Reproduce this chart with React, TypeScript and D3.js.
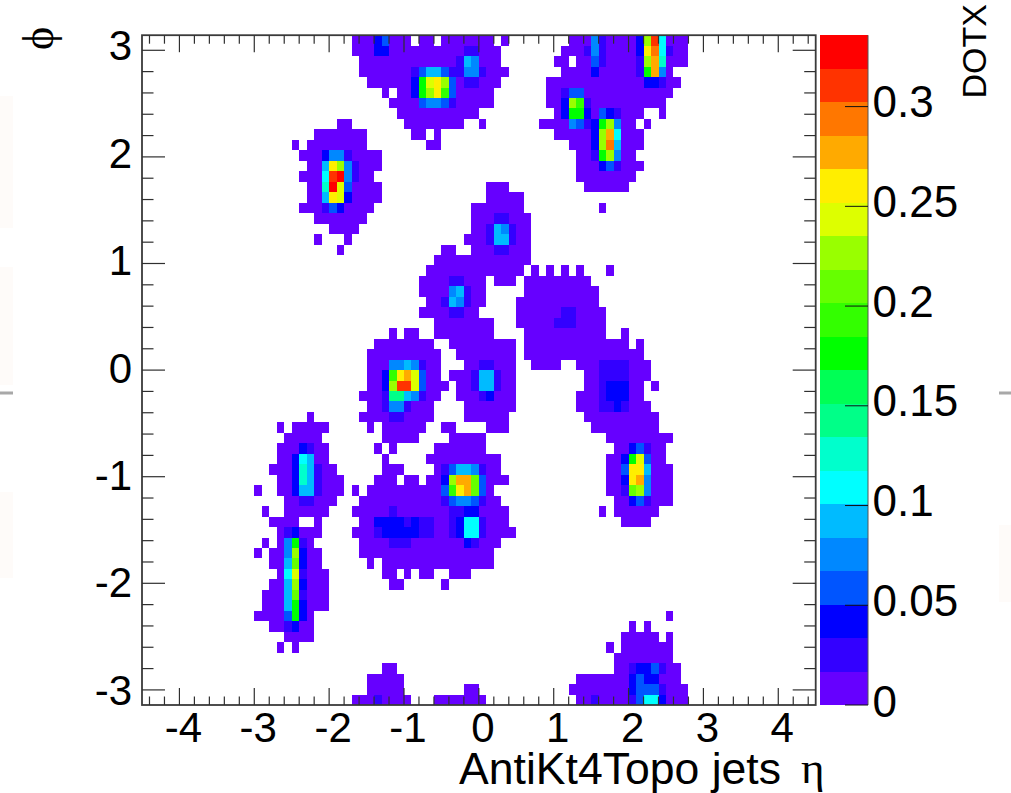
import React from "react";
import * as d3 from "d3";

// Observed bins per row of the 90 x 64 histogram (row 0 = top). Pairs of first/last eta bin.
const occupiedBins: number[][] = [
  [28,35,37,38,40,46,48,48,57,72],
  [28,47,56,72],
  [29,47,55,56,58,72],
  [29,48,56,70],
  [30,47,54,71],
  [32,32,34,46,54,70],
  [33,46,54,69],
  [34,44,55,66,69,69],
  [26,27,35,42,45,45,53,65,67,67],
  [23,29,36,37,39,39,55,66],
  [20,20,22,29,38,39,57,66],
  [21,31,58,65],
  [22,31,58,66],
  [21,30,58,65],
  [22,31,46,48,59,64],
  [22,31,46,50],
  [21,30,44,50,61,61],
  [23,29,44,51],
  [25,28,44,51],
  [23,23,27,27,43,51],
  [26,26,40,41,44,51],
  [39,51],
  [38,50,52,52,54,54,56,56,58,58,62,62],
  [37,45,47,49,51,59],
  [37,45,51,60],
  [38,45,50,60],
  [37,44,50,61],
  [39,46,50,61],
  [33,33,35,36,39,46,51,61,64,64],
  [31,38,41,49,51,64,66,66],
  [30,39,42,49,51,66],
  [30,39,43,49,52,55,58,67],
  [30,39,41,49,59,67],
  [30,40,42,49,59,66,68,68],
  [29,39,42,49,58,66],
  [30,38,43,49,58,67],
  [22,22,29,38,43,48,59,68],
  [18,18,20,24,30,30,32,37,40,41,46,48,60,68],
  [19,23,32,36,41,45,62,70],
  [18,24,31,31,33,33,39,45,63,69],
  [18,24,32,32,38,47,62,69],
  [17,25,32,34,39,47,62,70],
  [18,26,31,33,35,36,38,48,62,70],
  [15,15,18,26,28,28,30,46,62,70],
  [19,25,29,47,63,70],
  [16,16,19,24,28,48,61,61,63,68],
  [17,20,23,23,29,48,64,67],
  [18,23,28,49],
  [16,16,18,22,29,47],
  [15,15,17,23,29,46],
  [17,23,30,30,32,46],
  [18,24,32,33,35,35,37,38,41,43],
  [17,24,33,34,40,40],
  [16,24],
  [16,24],
  [15,22,70,70],
  [17,22,65,65,67,67],
  [19,22,64,68,70,70],
  [18,18,20,20,62,62,64,70],
  [63,70],
  [32,33,63,71],
  [30,34,58,71],
  [30,34,43,44,57,72],
  [28,35,39,45,58,72],
];

// Raised bins: [row, first bin, colour band of that bin, band of next bin, ...]
const peakBands: number[][] = [
  [0,31,2,3],[1,31,2,2],[1,43,1,1],[2,42,1,5,4],[3,36,1,3,5,5,3,1,1,4,4,1],
  [4,36,2,10,14,15,13,3],[4,43,1,1],[5,36,2,10,13,15,11,3],[6,37,3,4,4,3,1],
  [0,60,4,1],[0,66,2,13,18,6],[1,59,1,4,1],[1,66,2,15,17,6,1],[2,60,3,1],[2,66,1,13,16,7],
  [3,60,2],[3,66,1,10,16,4],[4,67,2,2,1],[5,56,1,3,3],[6,56,2,13,11,1],[7,56,2,10,10,2],
  [7,61,3,2,1],[8,57,4,3,1,2,10,13,4],[9,60,2,13,16,6],[10,60,2,13,17,5],[11,60,1,10,13,4],[12,61,2,3,1],
  [11,24,2,4,4,1],[12,24,5,15,13,4,1],[13,24,6,18,19,4,1],[14,24,7,19,14,3],[15,24,5,15,14,2],[16,24,1,3,2],
  [17,47,1,1],[18,46,1,5,4,1],[19,46,1,5,5,1],[20,47,1,1],
  [23,41,1,1],[24,41,4,5,1],[25,40,1,5,4,1],[26,41,1,1],[26,56,1,1],[27,55,1,1,1],
  [31,33,4,4,5,4,1],[31,45,1,1],[31,61,1,1,1,1],
  [32,32,2,11,15,16,14,3],[32,44,1,5,5,1],[32,61,1,1,1,1],
  [33,32,2,13,18,18,14,3],[33,44,1,5,5,1],[33,61,1,2,2,2],
  [34,32,1,8,8,5,4,1],[34,45,1,2],[34,61,1,2,2,2],
  [35,32,1,4,4,1],[35,61,1,1,2,1],[36,33,1,1],
  [39,21,2,1],[40,20,2,6,5],[41,20,2,7,5,1],[42,20,2,7,5,1],[43,20,2,5,5,1],[44,21,1,1],
  [47,19,1,2],[48,19,4,10,1],[49,19,4,13,2],[50,19,5,12,2],[51,19,6,14,1],[52,19,5,13,2],
  [53,19,5,12,1],[54,19,5,10,2],[55,19,3,10,2],[56,19,1,2],
  [41,40,1,3,5,5,4,1],[42,40,2,13,16,16,12,3],[43,40,3,11,15,16,12,3],[44,40,1,3,4,4,3,1],
  [45,33,1],[45,41,1,1,2,2],[46,31,2,2,2,2,1,2,1,1],[46,41,1,2,6,6,1],
  [47,31,1,2,2,2,2,2,1,1],[47,41,1,2,6,6,1],[48,33,1,1,1],[48,43,2,1],
  [39,65,2,3,1],[40,64,2,10,14,3],[41,64,3,15,15,5],[42,64,2,15,16,4],[43,64,1,12,13,4],[44,65,2,3,1],
  [60,65,1,2,2,3,1],[61,65,2,3,2,2],[62,65,2,3,3,3,1],[63,60,1],[63,65,1,3,6,6,2],[63,31,1],
];

const palette = ["#6600ff","#3300ff","#0000ff","#0055ff","#0088ff","#00bbff","#00ffff","#00ffcc","#00ff88","#00ff55",
  "#00ff00","#33ff00","#66ff00","#99ff00","#ddff00","#ffee00","#ffaa00","#ff7700","#ff3300","#ff0000"];
const zMax = 0.3358;
const etaTicks = [-4,-3,-2,-1,0,1,2,3,4];
const phiTicks = [-3,-2,-1,0,1,2,3];
const zTicks = [0,0.05,0.1,0.15,0.2,0.25,0.3];
const zLabels = ["0","0.05","0.1","0.15","0.2","0.25","0.3"];

const W = 1011, H = 793;
const frame = { l: 142, r: 815.7, t: 35.2, b: 705 };
const bar = { l: 820, r: 868 };
const nEta = 90, nPhi = 64;
const FONT = "'Liberation Sans', Arial, sans-serif";

export default function App() {
  const x = d3.scaleLinear().domain([-4.5, 4.5]).range([frame.l, frame.r]);
  const y = d3.scaleLinear().domain([-Math.PI, Math.PI]).range([frame.b, frame.t]);
  const z = d3.scaleLinear().domain([0, zMax]).range([frame.b, frame.t]);
  const color = d3.scaleQuantize<string>().domain([0, zMax]).range(palette);
  const bandStep = zMax / palette.length;

  const grid = new Map<string, number>();
  occupiedBins.forEach((pairs, row) => {
    for (let i = 0; i < pairs.length; i += 2)
      d3.range(pairs[i], pairs[i + 1] + 1).forEach((c) => grid.set(`${row}:${c}`, 0.5 * bandStep));
  });
  peakBands.forEach(([row, first, ...bands]) =>
    bands.forEach((b, k) => grid.set(`${row}:${first + k}`, (b + 0.5) * bandStep)));

  const etaEdge = (c: number) => -4.5 + (c * 9) / nEta;
  const phiEdge = (r: number) => Math.PI - (r * 2 * Math.PI) / nPhi;

  const cells = Array.from(grid, ([key, v]) => {
    const [r, c] = key.split(":").map(Number);
    return { r, c, v };
  });

  const etaMinor = d3.range(-22, 23).map((d) => d / 5).filter((d) => !Number.isInteger(d));
  const phiMinor = d3.range(-15, 16).map((d) => d / 5).filter((d) => !Number.isInteger(d));

  const tickCol = "#2f2f2f";
  return (
    <svg width={W} height={H} viewBox={`0 0 ${W} ${H}`}
      style={{ position: "absolute", left: 0, top: 0, display: "block", background: "#fff" }}>
      {/* faint page remnants at the picture edges */}
      <g fill="#fefbf9">
        <rect x={0} y={96} width={13} height={132} />
        <rect x={0} y={267} width={13} height={118} />
        <rect x={0} y={492} width={13} height={86} />
        <rect x={999} y={525} width={12} height={77} />
      </g>
      <rect x={0} y={391.5} width={13} height={3} fill="#a8a8a8" />
      <rect x={999} y={391.5} width={12} height={3} fill="#a8a8a8" />

      <g shapeRendering="crispEdges">
        {cells.map((d) => (
          <rect key={`${d.r}-${d.c}`} x={x(etaEdge(d.c))} y={y(phiEdge(d.r))}
            width={x(etaEdge(d.c + 1)) - x(etaEdge(d.c))}
            height={y(phiEdge(d.r + 1)) - y(phiEdge(d.r))}
            fill={color(d.v)} />
        ))}
      </g>

      {/* frame */}
      <rect x={frame.l} y={frame.t} width={frame.r - frame.l} height={frame.b - frame.t}
        fill="none" stroke="#3a3a3a" strokeWidth={1.8} />

      {/* eta ticks */}
      <g stroke={tickCol} strokeWidth={1.2}>
        {etaMinor.map((d) => (
          <g key={d}>
            <line x1={x(d)} x2={x(d)} y1={frame.t} y2={frame.t + 8.5} />
            <line x1={x(d)} x2={x(d)} y1={frame.b} y2={frame.b - 8.5} />
          </g>
        ))}
        {etaTicks.map((d) => (
          <g key={d}>
            <line x1={x(d)} x2={x(d)} y1={frame.t} y2={frame.t + 17} />
            <line x1={x(d)} x2={x(d)} y1={frame.b} y2={frame.b - 17} />
          </g>
        ))}
        {phiMinor.map((d) => (
          <g key={d}>
            <line y1={y(d)} y2={y(d)} x1={frame.l} x2={frame.l + 11.5} />
            <line y1={y(d)} y2={y(d)} x1={frame.r} x2={frame.r - 11.5} />
          </g>
        ))}
        {phiTicks.map((d) => (
          <g key={d}>
            <line y1={y(d)} y2={y(d)} x1={frame.l} x2={frame.l + 23} />
            <line y1={y(d)} y2={y(d)} x1={frame.r} x2={frame.r - 23} />
          </g>
        ))}
      </g>

      {/* tick labels */}
      <g fontFamily={FONT} fontSize={42} fill="#000">
        {etaTicks.map((d) => (
          <text key={d} x={x(d) + 4} y={742} textAnchor="middle">{d}</text>
        ))}
        {phiTicks.map((d) => (
          <text key={d} x={132} y={y(d) + 12.5 - d * 0.8} textAnchor="end">{d}</text>
        ))}
      </g>
      <text x={459} y={783.5} fontFamily={FONT} fontSize={44} textLength={322} lengthAdjust="spacingAndGlyphs" fill="#000">AntiKt4Topo jets</text>
      <text x={801} y={783} fontFamily="'Liberation Serif', serif" fontSize={45} fill="#000">η</text>

      {/* colour bar */}
      <g shapeRendering="crispEdges">
        {palette.map((c, i) => (
          <rect key={c} x={bar.l} width={bar.r - bar.l}
            y={z((i + 1) * bandStep)} height={z(i * bandStep) - z((i + 1) * bandStep)} fill={c} />
        ))}
      </g>
      <line x1={bar.r} x2={bar.r} y1={frame.t} y2={frame.b} stroke="#555" strokeWidth={1} />
      <g stroke="#111" strokeWidth={1}>
        {zTicks.map((t) => <line key={t} x1={bar.r - 23} x2={bar.r} y1={z(t)} y2={z(t)} />)}
      </g>
      <g fontFamily={FONT} fontSize={44} fill="#000">
        {zTicks.map((t, i) => (
          <text key={t} x={872.5} y={z(t) + (t === 0 ? 12 : 10.5)}>{zLabels[i]}</text>
        ))}
      </g>

      {/* axis titles */}
      <text transform="translate(986,4) rotate(-90)" textAnchor="end" fontFamily={FONT} fontSize={34} fill="#000">DOTX</text>
      <text transform="translate(53,38.5) rotate(-90)" textAnchor="middle" fontFamily="'Liberation Serif', serif" fontSize={44} fill="#000">ϕ</text>
    </svg>
  );
}
